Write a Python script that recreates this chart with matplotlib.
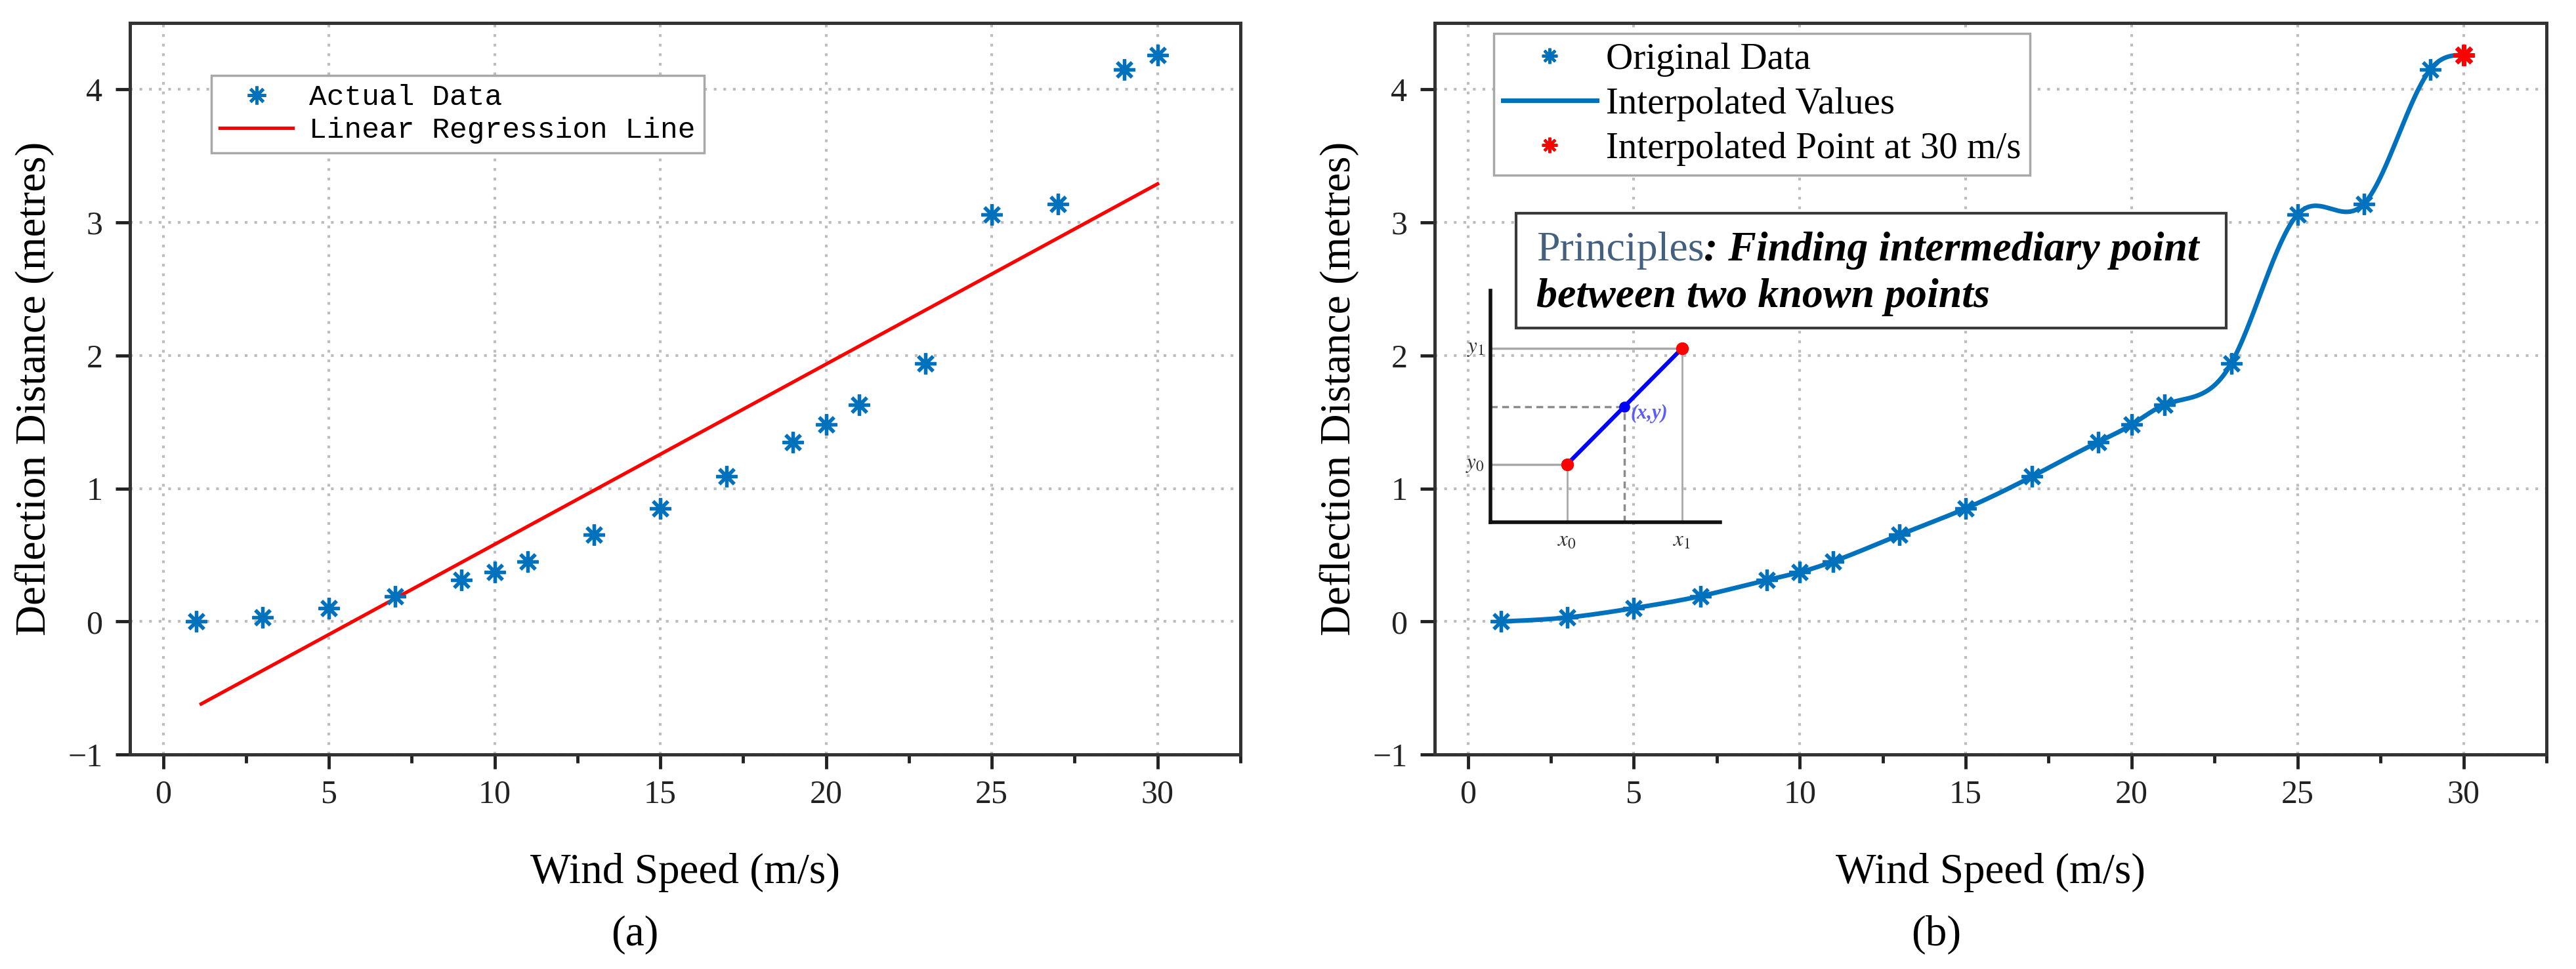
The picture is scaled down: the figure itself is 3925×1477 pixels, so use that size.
import numpy as np
import matplotlib
matplotlib.use("Agg")
import matplotlib.pyplot as plt
from matplotlib.patches import Rectangle
from matplotlib.lines import Line2D
from matplotlib.ticker import MultipleLocator

plt.rcParams['font.family'] = ['Liberation Serif', 'DejaVu Serif']
plt.rcParams['mathtext.fontset'] = 'stix'

W, H = 3925, 1477

# ---------------- data ----------------
wind_speed = [1, 3, 5, 7, 9, 10, 11, 13, 15, 17, 19, 20, 21, 23, 25, 27, 29, 30]
deflection = [0.00, 0.03, 0.10, 0.19, 0.31, 0.37, 0.45, 0.65, 0.85, 1.09,
              1.35, 1.48, 1.63, 1.94, 3.06, 3.14, 4.15, 4.26]
regression_x = [1.15, 30.0]
regression_y = [-0.62, 3.29]
interp_point_x = [30]
interp_point_y = [4.26]
x_ticks = [0, 5, 10, 15, 20, 25, 30]
y_ticks = [-1, 0, 1, 2, 3, 4]
# schematic of the principle (inset)
sketch_x = [1.0, 2.5]
sketch_y = [1.0, 3.0]
sketch_mid = [1.75, 2.0]

BLUE = '#0072bd'
STAR = (8, 2, 0)


def natural_spline(x, y, xs):
    x = np.asarray(x, float)
    y = np.asarray(y, float)
    n = len(x)
    h = np.diff(x)
    A = np.zeros((n, n))
    b = np.zeros(n)
    A[0, 0] = 1.0
    A[-1, -1] = 1.0
    for i in range(1, n - 1):
        A[i, i - 1] = h[i - 1]
        A[i, i] = 2 * (h[i - 1] + h[i])
        A[i, i + 1] = h[i]
        b[i] = 6 * ((y[i + 1] - y[i]) / h[i] - (y[i] - y[i - 1]) / h[i - 1])
    M = np.linalg.solve(A, b)
    idx = np.clip(np.searchsorted(x, xs) - 1, 0, n - 2)
    x0 = x[idx]; x1 = x[idx + 1]; hh = x1 - x0
    return (M[idx] * (x1 - xs) ** 3 / (6 * hh) + M[idx + 1] * (xs - x0) ** 3 / (6 * hh)
            + (y[idx] / hh - M[idx] * hh / 6) * (x1 - xs)
            + (y[idx + 1] / hh - M[idx + 1] * hh / 6) * (xs - x0))


def fx(px):
    return px / W


def fy(py):
    return 1 - py / H


fig = plt.figure(figsize=(W / 100, H / 100), dpi=100)

axa = fig.add_axes([fx(198), fy(1150), (1890 - 198) / W, (1150 - 35) / H])
axb = fig.add_axes([fx(2186), fy(1150), (3880 - 2186) / W, (1150 - 35) / H])


def style(ax):
    ax.set_xlim(-1, 32.5)
    ax.set_ylim(-1, 4.5)
    ax.set_xticks(x_ticks)
    ax.set_yticks(y_ticks)
    ax.xaxis.set_minor_locator(MultipleLocator(2.5))
    ax.tick_params(which='major', direction='out', length=16, width=3.5,
                   labelsize=36, colors='#222222', top=False, right=False)
    ax.tick_params(axis='x', which='major', pad=11)
    ax.tick_params(axis='y', which='major', pad=14)
    ax.tick_params(axis='x', which='minor', direction='out', length=9, width=3.5,
                   color='#222222', top=False)
    for s in ax.spines.values():
        s.set_linewidth(3.6)
        s.set_color('#333333')
    ax.grid(True, which='major', color='#bdbdbd', lw=3, ls=(0, (1, 2.5)))
    ax.set_axisbelow(True)
    ax.set_xlabel('Wind Speed (m/s)', fontsize=47)
    ax.set_ylabel('Deflection Distance (metres)', fontsize=47)
    ax.xaxis.set_label_coords(0.5, (1150 - 1330) / 1115)
    ax.xaxis.label.set_va('center')
    ax.yaxis.set_label_coords(-145 / 1692, 0.5)
    ax.yaxis.label.set_va('center')


style(axa)
style(axb)

# ---------------- panel (a) ----------------
axa.plot(regression_x, regression_y, color='#ff0000', lw=3.8, zorder=3)
axa.plot(wind_speed, deflection, ls='none', marker=STAR, ms=23, mew=3.8,
         color=BLUE, zorder=4)
ha = [Line2D([], [], ls='none', marker=STAR, ms=20, mew=3.5, color=BLUE),
      Line2D([], [], color='#ff0000', lw=3.8)]
lega = axa.legend(ha, ['Actual Data', 'Linear Regression Line'],
                  loc='upper left', bbox_to_anchor=(fx(322), fy(115)),
                  bbox_transform=fig.transFigure, borderaxespad=0,
                  prop={'family': 'Liberation Mono', 'size': 32},
                  frameon=True, fancybox=False, framealpha=1,
                  borderpad=0.3, labelspacing=0.2, handlelength=2.5,
                  handletextpad=0.55)
lega.get_frame().set_edgecolor('#a8a8a8')
lega.get_frame().set_linewidth(2.5)

# ---------------- panel (b) ----------------
xs = np.linspace(wind_speed[0], wind_speed[-1], 800)
axb.plot(xs, natural_spline(wind_speed, deflection, xs), color=BLUE, lw=5, zorder=3)
axb.plot(wind_speed[:-1], deflection[:-1], ls='none', marker=STAR, ms=23, mew=3.8,
         color=BLUE, zorder=4)
axb.plot(interp_point_x, interp_point_y, ls='none', marker=STAR, ms=23, mew=4.8,
         color='#ff0000', zorder=5)
hb = [Line2D([], [], ls='none', marker=STAR, ms=17, mew=3, color=BLUE),
      Line2D([], [], color=BLUE, lw=5),
      Line2D([], [], ls='none', marker=STAR, ms=17, mew=3, color='#ff0000')]
legb = axb.legend(hb, ['Original Data', 'Interpolated Values', 'Interpolated Point at 30 m/s'],
                  loc='upper left', bbox_to_anchor=(fx(2276), fy(51)),
                  bbox_transform=fig.transFigure, borderaxespad=0,
                  prop={'family': 'Liberation Serif', 'size': 41},
                  frameon=True, fancybox=False, framealpha=1,
                  borderpad=0.25, labelspacing=0.28, handlelength=2.5,
                  handletextpad=0.25)
legb.get_frame().set_edgecolor('#a8a8a8')
legb.get_frame().set_linewidth(2.5)

# principles box
box = Rectangle((fx(2310), fy(500)), (3392 - 2310) / W, (500 - 325) / H,
                transform=fig.transFigure, facecolor='white', edgecolor='#3a3a3a',
                lw=3, zorder=5)
fig.add_artist(box)
t1 = fig.text(fx(2341), fy(397), 'Principles', color='#44607f', fontsize=46,
              va='baseline', ha='left', zorder=6)
renderer = fig.canvas.get_renderer()
bb = t1.get_window_extent(renderer)
fig.text(bb.x1 / fig.bbox.width, fy(397), ': Finding intermediary point', color='black',
         fontsize=46, fontweight='bold', fontstyle='italic', va='baseline', ha='left', zorder=6)
fig.text(fx(2341), fy(468), 'between two known points', color='black',
         fontsize=46, fontweight='bold', fontstyle='italic', va='baseline', ha='left', zorder=6)

# inset schematic
iax = fig.add_axes([fx(2271), fy(796), 350 / W, (796 - 443) / H])
iax.set_xlim(0, 3)
iax.set_ylim(0, 4)
iax.patch.set_visible(False)
iax.spines['top'].set_visible(False)
iax.spines['right'].set_visible(False)
for s in ('left', 'bottom'):
    iax.spines[s].set_linewidth(4)
    iax.spines[s].set_color('#111111')
iax.set_xticks([])
iax.set_yticks([])
gray = '#a8a8a8'
iax.plot([0, sketch_x[1]], [sketch_y[1], sketch_y[1]], color=gray, lw=2.5)
iax.plot([0, sketch_x[0]], [sketch_y[0], sketch_y[0]], color=gray, lw=2.5)
iax.plot([sketch_x[0], sketch_x[0]], [0, sketch_y[0]], color=gray, lw=2)
iax.plot([sketch_x[1], sketch_x[1]], [0, sketch_y[1]], color=gray, lw=2)
iax.plot([0, sketch_mid[0]], [sketch_mid[1], sketch_mid[1]], color='#8c8c8c', lw=2.5, ls=(0, (3, 2)))
iax.plot([sketch_mid[0], sketch_mid[0]], [0, sketch_mid[1]], color='#8c8c8c', lw=2.5, ls=(0, (3, 2)))
iax.plot(sketch_x, sketch_y, color='#0000ff', lw=4.5)
iax.plot(sketch_x, sketch_y, ls='none', marker='o', ms=13, color='#ff0000')
iax.plot([sketch_mid[0]], [sketch_mid[1]], ls='none', marker='o', ms=11, color='#0000ff')
iax.text(-0.08, sketch_y[1], r'$y_1$', ha='right', va='center', fontsize=24, color='#333333')
iax.text(-0.08, sketch_y[0], r'$y_0$', ha='right', va='center', fontsize=24, color='#333333')
iax.text(sketch_x[0], -0.15, r'$x_0$', ha='center', va='top', fontsize=24, color='#333333')
iax.text(sketch_x[1], -0.15, r'$x_1$', ha='center', va='top', fontsize=24, color='#333333')
iax.text(sketch_mid[0] + 0.08, sketch_mid[1] - 0.12, '(x,y)', ha='left', va='center',
         fontsize=22, color='#5c5cff', fontstyle='italic', fontweight='bold')

# captions
fig.text(fx(967), fy(1425), '(a)', fontsize=47, ha='center', va='center')
fig.text(fx(2950), fy(1425), '(b)', fontsize=47, ha='center', va='center')

fig.savefig('out.png', dpi=100)
